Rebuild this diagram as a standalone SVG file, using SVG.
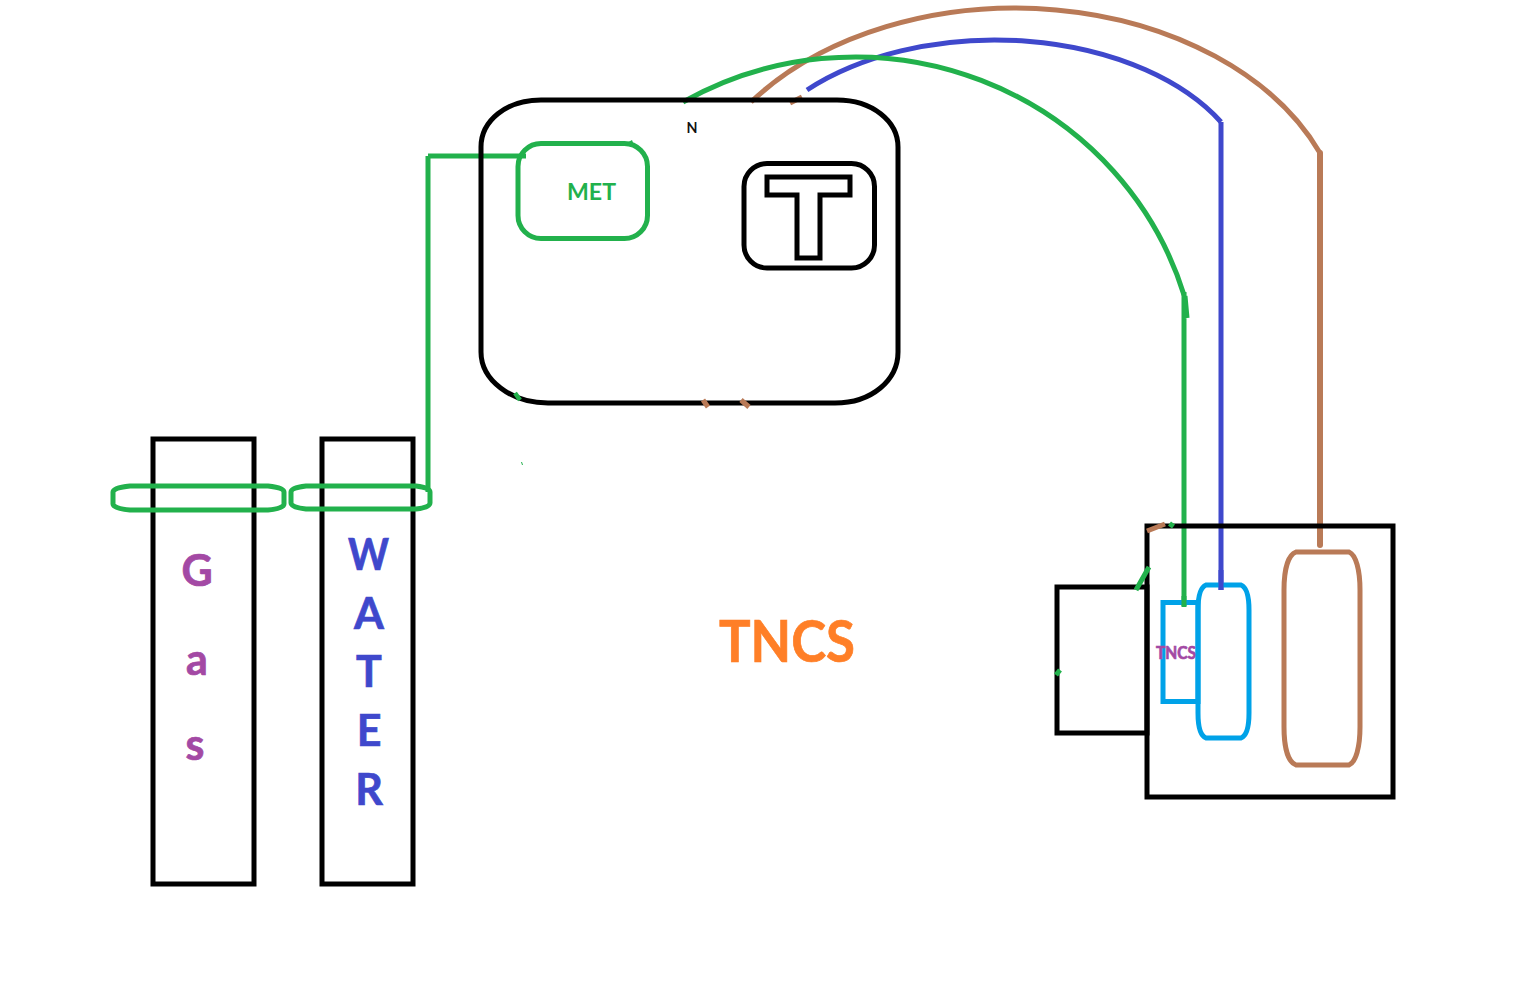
<svg xmlns="http://www.w3.org/2000/svg" width="1523" height="999" viewBox="0 0 1523 999">
<style>
.k{fill:none;stroke:#000;stroke-width:5}
.g{fill:none;stroke:#22B14C;stroke-width:5}
.b{fill:none;stroke:#3F48CC;stroke-width:5}
.br{fill:none;stroke:#B97A57;stroke-width:5}
.c{fill:none;stroke:#00A2E8;stroke-width:5}
text{font-family:"Lato","Liberation Sans",sans-serif;font-weight:700;text-anchor:middle;stroke-width:.7}
.p{fill:#A349A4;stroke:#A349A4;font-size:43px}
.w{fill:#3F48CC;stroke:#3F48CC;font-size:43px}
</style>
<rect width="1523" height="999" fill="#fff"/>
<g id="connectors">
<path class="br" d="M751,102A330.600,236 0 0 1 1320,153"/>
<path class="b" d="M807,90A258.600,159.600 0 0 1 1221,122"/>
<path class="g" d="M683,102A343.800,335.600 0 0 1 1184,295"/>
<path class="g" d="M1184,292V606M1185,296L1187,318"/>
<path class="b" d="M1221,122V590"/>
<path d="M1320,153V545" fill="none" stroke="#B97A57" stroke-width="6" stroke-linecap="round"/>
<path class="g" d="M428,156V492M428,156H526"/>
<path class="br" d="M790,103L802,97"/>
</g>
<g id="tn-board">
<path class="k" d="M541,100H837C872,100 898,121 898,147V352C898,380 872,403 835,403H548C511,403 481,380 481,352V147C481,121 506,100 541,100Z"/>
<path d="M515,393L520,400" stroke="#22B14C" stroke-width="4.500" fill="none"/>
<path d="M703,400L708,407M741,400L749,407" stroke="#B97A57" stroke-width="5" fill="none"/>
<path d="M521.500,462L522.500,465" stroke="#22B14C" stroke-width="1" fill="none"/>
</g>
<g id="met">
<rect class="g" x="518" y="143.500" width="129.500" height="95" rx="23"/>
<path d="M625,144L632,140L634,145Z" fill="#22B14C"/>
<text x="591.500" y="200" font-size="22" fill="#22B14C" textLength="49" lengthAdjust="spacingAndGlyphs">MET</text>
</g>
<g id="n-label"><text x="692" y="133" font-size="15" fill="#111" textLength="11" lengthAdjust="spacingAndGlyphs">N</text></g>
<g id="t-box">
<rect class="k" x="744" y="163.500" width="130.500" height="104.500" rx="23"/>
<path class="k" d="M767,177H850V195H820V258H797V195H767Z"/>
</g>
<g id="gas">
<rect class="k" x="153" y="439" width="101" height="445"/>
<path class="g" d="M130,486H268C278,487 284,489 284,492V504C284,507 278,509 268,510H130C120,509 113,507 113,504V492C113,489 120,487 130,486Z"/>
<text class="p" x="197" y="586">G</text>
<text class="p" x="197" y="675">a</text>
<text class="p" x="195" y="760">s</text>
</g>
<g id="water">
<rect class="k" x="322" y="439" width="91" height="445"/>
<path class="g" d="M306,486H416C425,487 430,489 430,492V503C430,506 425,508 416,509H306C297,508 291,506 291,503V492C291,489 297,487 306,486Z"/>
<text class="w" x="368.500" y="570" textLength="41" lengthAdjust="spacingAndGlyphs">W</text>
<text class="w" x="369" y="629">A</text>
<text class="w" x="369" y="687">T</text>
<text class="w" x="369" y="746">E</text>
<text class="w" x="369" y="805">R</text>
</g>
<g id="tncs-title"><text x="787" y="662" font-size="57" fill="#FF7F27" stroke="#FF7F27" stroke-width="1" textLength="136" lengthAdjust="spacingAndGlyphs">TNCS</text></g>
<g id="consumer-unit">
<rect class="k" x="1147" y="526" width="246" height="271"/>
<rect class="k" x="1057" y="587" width="90" height="146"/>
<path class="br" d="M1147,531L1165,524"/>
<path class="g" d="M1170,527L1173,523M1136,590L1149,567M1056,675L1060,670"/>
</g>
<g id="tncs-terminal">
<rect class="c" x="1163" y="602.500" width="35" height="99"/>
<path class="g" d="M1184,596V607"/>
<text x="1176" y="659" font-size="16.500" fill="#A349A4" stroke="#A349A4" stroke-width=".3" textLength="40" lengthAdjust="spacingAndGlyphs">TNCS</text>
</g>
<g id="neutral-terminal">
<path class="c" d="M1206,585H1241C1246,587 1249,595 1249,610V713C1249,728 1246,736 1241,738H1206C1201,736 1198,728 1198,713V610C1198,595 1201,587 1206,585Z"/>
<path class="b" d="M1221,570V590"/>
</g>
<g id="line-terminal">
<path class="br" d="M1296,552H1349C1356,555 1360,570 1360,590V727C1360,747 1356,762 1349,765H1296C1288,762 1284,747 1284,727V590C1284,570 1288,555 1296,552Z"/>
</g>
</svg>
